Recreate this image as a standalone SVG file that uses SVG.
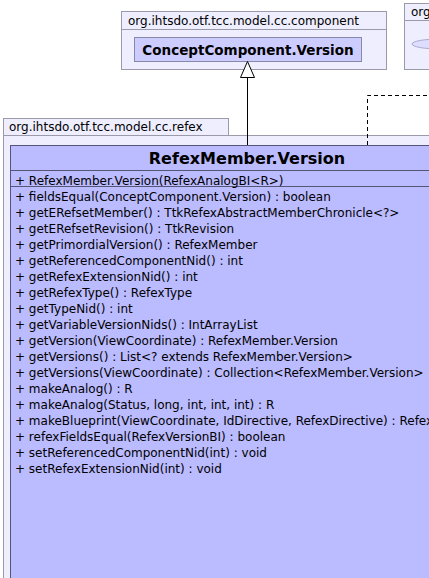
<svg xmlns="http://www.w3.org/2000/svg" width="429" height="578" viewBox="0 0 429 578">
<style>
.pkg{fill:#eeeeff;stroke:#9a9aaa;stroke-width:1}
.cls{fill:#bbbbff;stroke:#55557a;stroke-width:1}
.cls2{fill:#ccccff;stroke:#8888aa;stroke-width:1}
.t{font-family:"DejaVu Sans",sans-serif;font-size:12px;fill:#000}
.b{font-family:"DejaVu Sans",sans-serif;font-weight:bold;fill:#000}
.sep{stroke:#55557a;stroke-width:1}
</style>
<rect width="429" height="578" fill="#ffffff"/>
<g id="pkg-component">
<rect class="pkg" x="121.5" y="11.5" width="265" height="58"/>
<line x1="121.5" y1="29.5" x2="386.5" y2="29.5" stroke="#9a9aaa"/>
<text class="t" x="128" y="25">org.ihtsdo.otf.tcc.model.cc.component</text>
</g>
<g id="ConceptComponent.Version">
<rect class="cls2" x="134.5" y="37.5" width="227" height="24"/>
<text class="b" x="248" y="54.5" font-size="13.5" text-anchor="middle">ConceptComponent.Version</text>
</g>
<g id="pkg-other">
<rect class="pkg" x="404.5" y="3.5" width="40" height="66"/>
<line x1="404.5" y1="20.5" x2="444.5" y2="20.5" stroke="#9a9aaa"/>
<text class="t" x="411" y="16">org</text>
<ellipse cx="440" cy="44" rx="28" ry="5" fill="#ddddff" stroke="#aaaacc"/>
</g>
<g id="pkg-refex">
<rect class="pkg" x="3.5" y="135.5" width="440" height="450"/>
<rect class="pkg" x="3.5" y="118.5" width="225" height="17"/>
<text class="t" x="9" y="131">org.ihtsdo.otf.tcc.model.cc.refex</text>
</g>
<g id="RefexMember.Version">
<rect class="cls" x="10.5" y="145.5" width="474" height="440"/>
<line class="sep" x1="10.5" y1="170.5" x2="484.5" y2="170.5"/>
<line class="sep" x1="10.5" y1="186.5" x2="484.5" y2="186.5"/>
<text class="b" x="247" y="164" font-size="16" text-anchor="middle">RefexMember.Version</text>
<text class="t" x="15" y="184.5">+ RefexMember.Version(RefexAnalogBI&lt;R&gt;)</text>
<text class="t" x="15" y="201.3">+ fieldsEqual(ConceptComponent.Version) : boolean</text>
<text class="t" x="15" y="217.3">+ getERefsetMember() : TtkRefexAbstractMemberChronicle&lt;?&gt;</text>
<text class="t" x="15" y="233.3">+ getERefsetRevision() : TtkRevision</text>
<text class="t" x="15" y="249.2">+ getPrimordialVersion() : RefexMember</text>
<text class="t" x="15" y="265.2">+ getReferencedComponentNid() : int</text>
<text class="t" x="15" y="281.2">+ getRefexExtensionNid() : int</text>
<text class="t" x="15" y="297.1">+ getRefexType() : RefexType</text>
<text class="t" x="15" y="313.1">+ getTypeNid() : int</text>
<text class="t" x="15" y="329.1">+ getVariableVersionNids() : IntArrayList</text>
<text class="t" x="15" y="345">+ getVersion(ViewCoordinate) : RefexMember.Version</text>
<text class="t" x="15" y="361">+ getVersions() : List&lt;? extends RefexMember.Version&gt;</text>
<text class="t" x="15" y="377">+ getVersions(ViewCoordinate) : Collection&lt;RefexMember.Version&gt;</text>
<text class="t" x="15" y="392.9">+ makeAnalog() : R</text>
<text class="t" x="15" y="408.9">+ makeAnalog(Status, long, int, int, int) : R</text>
<text class="t" x="15" y="424.9">+ makeBlueprint(ViewCoordinate, IdDirective, RefexDirective) : RefexCAB</text>
<text class="t" x="15" y="440.8">+ refexFieldsEqual(RefexVersionBI) : boolean</text>
<text class="t" x="15" y="456.8">+ setReferencedComponentNid(int) : void</text>
<text class="t" x="15" y="472.7">+ setRefexExtensionNid(int) : void</text>
</g>
<g id="connectors" fill="none" stroke="#000" stroke-width="1">
<line x1="247.5" y1="77" x2="247.5" y2="145"/>
<polygon points="247.5,61.5 240.5,77.5 254.5,77.5" fill="#ffffff"/>
<polyline points="367.5,145 367.5,95.5 429,95.5" stroke-dasharray="4,3"/>
</g>
</svg>
